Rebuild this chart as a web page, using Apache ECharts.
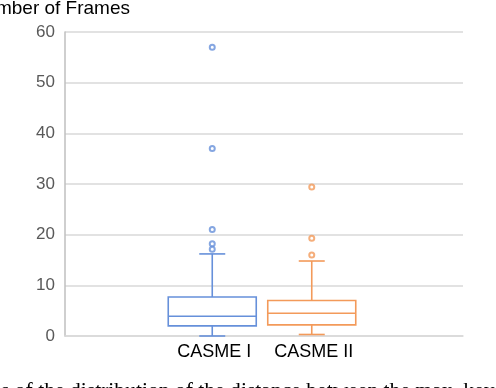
<!DOCTYPE html>
<html>
<head>
<meta charset="utf-8">
<script src="https://cdn.jsdelivr.net/npm/echarts@6/dist/echarts.min.js"></script>
<style>
  html, body { margin: 0; padding: 0; background: #fff; }
  #chart { width: 496px; height: 388px; }
</style>
</head>
<body>
<div id="chart"></div>
<script>
// categories (outer two are empty padding slots)
const categories = ['', 'CASME I', 'CASME II', ' '];
const yTicks = [0, 10, 20, 30, 40, 50, 60];

// box stats: [category index, min, q1, median, q3, max]
const casme1Box = [1, 0, 2.0, 3.9, 7.7, 16.2];
const casme2Box = [2, 0.3, 2.2, 4.5, 7.0, 14.8];

// outliers
const casme1Outliers = [57, 37, 21, 18.2, 17.1];
const casme2Outliers = [29.4, 19.3, 16];

const blue = '#6690DA';
const orange = '#F39A5A';

const chart = echarts.init(document.getElementById('chart'));

function renderBox(params, api) {
  const cat = api.value(0);
  const lo = api.coord([cat, api.value(1)]);
  const q1 = api.coord([cat, api.value(2)]);
  const med = api.coord([cat, api.value(3)]);
  const q3 = api.coord([cat, api.value(4)]);
  const hi = api.coord([cat, api.value(5)]);
  const x = lo[0] - 2;
  const half = 44;
  const cap = 13;
  const color = params.dataIndex === 0 ? blue : orange;
  const style = { stroke: color, fill: 'none', lineWidth: 1.6 };
  return {
    type: 'group',
    children: [
      { type: 'rect', shape: { x: x - half, y: q3[1], width: half * 2, height: q1[1] - q3[1] }, style: { stroke: color, fill: '#fff', lineWidth: 1.6 } },
      { type: 'line', shape: { x1: x - half, y1: med[1], x2: x + half, y2: med[1] }, style },
      { type: 'line', shape: { x1: x, y1: q3[1], x2: x, y2: hi[1] }, style },
      { type: 'line', shape: { x1: x, y1: q1[1], x2: x, y2: lo[1] }, style },
      { type: 'line', shape: { x1: x - cap, y1: hi[1], x2: x + cap, y2: hi[1] }, style },
      { type: 'line', shape: { x1: x - cap, y1: lo[1], x2: x + cap, y2: lo[1] }, style }
    ]
  };
}

chart.setOption({
  animation: false,
  grid: { left: 65, right: 33, top: 32, bottom: 52 },
  xAxis: {
    type: 'category',
    data: categories,
    axisLine: { show: true, lineStyle: { color: '#d9d9d9', width: 1.5 } },
    axisTick: { show: false },
    axisLabel: { color: '#000', fontSize: 18, fontFamily: 'Liberation Sans', margin: 7, interval: 0, hideOverlap: false },
    splitLine: { show: false }
  },
  yAxis: {
    type: 'value',
    min: yTicks[0],
    max: yTicks[yTicks.length - 1],
    interval: 10,
    axisLine: { show: true, lineStyle: { color: '#bfbfbf', width: 1.5 } },
    axisTick: { show: false },
    axisLabel: { color: '#595959', fontSize: 17, fontFamily: 'Liberation Sans', margin: 10 },
    splitLine: { show: true, lineStyle: { color: '#d9d9d9', width: 1.5 } }
  },
  graphic: [
    {
      type: 'text', right: 366, top: -1,
      style: { text: 'Number of Frames', font: '19px "Liberation Sans"', fill: '#000' }
    },
    {
      type: 'text', left: 1, top: 380,
      style: { text: 's of the distribution of the distance between the max. key', font: '21.6px "Liberation Serif"', fill: '#000' }
    }
  ],
  series: [
    {
      type: 'custom',
      renderItem: renderBox,
      encode: { x: 0, y: [1, 2, 3, 4, 5] },
      data: [casme1Box, casme2Box],
      z: 2
    },
    {
      type: 'scatter',
      symbol: 'emptyCircle',
      symbolSize: 5,
      symbolOffset: [-2, 0],
      itemStyle: { color: blue, borderColor: blue, borderWidth: 1.5 },
      data: casme1Outliers.map(v => [1, v]),
      z: 3
    },
    {
      type: 'scatter',
      symbol: 'emptyCircle',
      symbolSize: 5,
      symbolOffset: [-2, 0],
      itemStyle: { color: orange, borderColor: orange, borderWidth: 1.5 },
      data: casme2Outliers.map(v => [2, v]),
      z: 3
    }
  ]
});
</script>
</body>
</html>
